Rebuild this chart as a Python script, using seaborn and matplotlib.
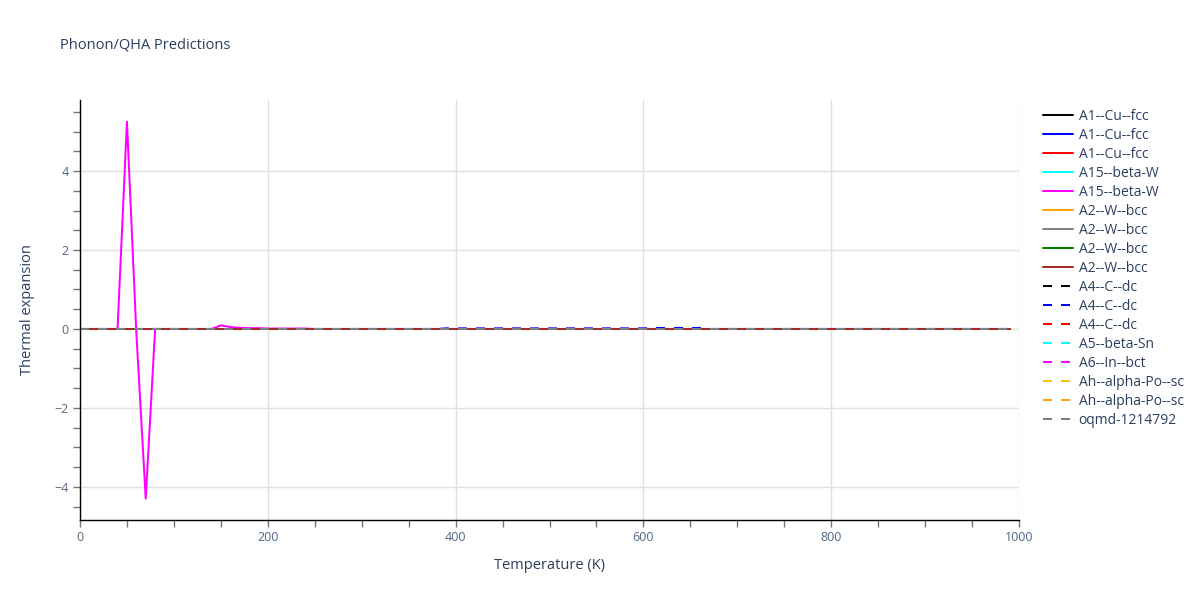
import numpy as np
import matplotlib
matplotlib.use("Agg")
import matplotlib.pyplot as plt
from matplotlib.ticker import MultipleLocator
import seaborn as sns

# Temperature grid (K)
temps = list(range(0, 1000, 10))
n = len(temps)

# Most series sit flat on zero across the whole range
flat = [0.0] * n

# A15--beta-W (magenta, solid): spike at low T, small bump near 150 K
beta_w_low = [0.0, 0.0, 0.0, 0.0, 0.0, 5.25, -0.1, -4.3, 0.0, 0.0,
              0.0, 0.0, 0.0, 0.0, 0.0, 0.09, 0.05, 0.03, 0.02, 0.02]
beta_w = beta_w_low + [0.01] * 5 + [0.0] * (n - len(beta_w_low) - 5)

# A4--C--dc (blue, dashed): slight lift between ~390 K and ~660 K
c_dc_blue = [0.0] * 39 + [0.015] * 22 + [0.025] * 6 + [0.0] * (n - 67)

labels = ["A1--Cu--fcc", "A1--Cu--fcc", "A1--Cu--fcc", "A15--beta-W", "A15--beta-W",
          "A2--W--bcc", "A2--W--bcc", "A2--W--bcc", "A2--W--bcc",
          "A4--C--dc", "A4--C--dc", "A4--C--dc", "A5--beta-Sn", "A6--In--bct",
          "Ah--alpha-Po--sc", "Ah--alpha-Po--sc", "oqmd-1214792"]
series = [flat, flat, flat, flat, beta_w,
          flat, flat, flat, flat,
          flat, c_dc_blue, flat, flat, flat,
          flat, flat, flat]
colors = ["black", "blue", "red", "cyan", "magenta",
          "orange", "gray", "green", "brown",
          "black", "blue", "red", "cyan", "magenta",
          "#ffc000", "orange", "gray"]
dashed = [False] * 9 + [True] * 8

sns.set_theme(style="white")
plt.rcParams["font.family"] = ["Open Sans", "DejaVu Sans"]
text_col = "#2a3f5f"
tick_col = "#506784"

fig = plt.figure(figsize=(12, 6), dpi=100)
ax = fig.add_axes([80 / 1200, 1 - 520 / 600, 939 / 1200, 420 / 600])

for name, vals, col, dsh in zip(labels, series, colors, dashed):
    sns.lineplot(x=temps, y=vals, ax=ax, color=col, lw=1.44, label=name, legend=False)
    if dsh:
        ax.lines[-1].set_dashes((4.5, 4.5))

ax.set_xlim(0, 1000)
ax.set_ylim(-4.84, 5.8)
ax.xaxis.set_major_locator(MultipleLocator(200))
ax.xaxis.set_minor_locator(MultipleLocator(50))
ax.yaxis.set_major_locator(MultipleLocator(2))
ax.yaxis.set_minor_locator(MultipleLocator(0.5))
ax.grid(True, which="major", color="#e0e0e0", lw=1)
ax.set_axisbelow(True)
for s in ["top", "right"]:
    ax.spines[s].set_visible(False)
for s in ["left", "bottom"]:
    ax.spines[s].set_color("black")
    ax.spines[s].set_linewidth(1)
ax.tick_params(which="both", direction="out", length=5, width=1, color="#777777",
               bottom=True, left=True)
ax.tick_params(which="major", labelsize=9, labelcolor=tick_col, pad=3)

ax.set_xlabel("Temperature (K)", fontsize=10.5, color=text_col, labelpad=10)
ax.set_ylabel("Thermal expansion", fontsize=10.5, color=text_col, labelpad=14)
fig.text(60 / 1200, 1 - 45 / 600, "Phonon/QHA Predictions", fontsize=10.5,
         color=text_col, va="center", ha="left")

handles, lbls = ax.get_legend_handles_labels()
leg = fig.legend(handles, lbls, loc="upper left", bbox_to_anchor=(1037 / 1200, 1 - 103 / 600),
                 frameon=False, fontsize=10, handlelength=2.2, handletextpad=0.4,
                 labelspacing=0.29, borderaxespad=0)
for t in leg.get_texts():
    t.set_color(text_col)

fig.savefig("out.png", dpi=100)
